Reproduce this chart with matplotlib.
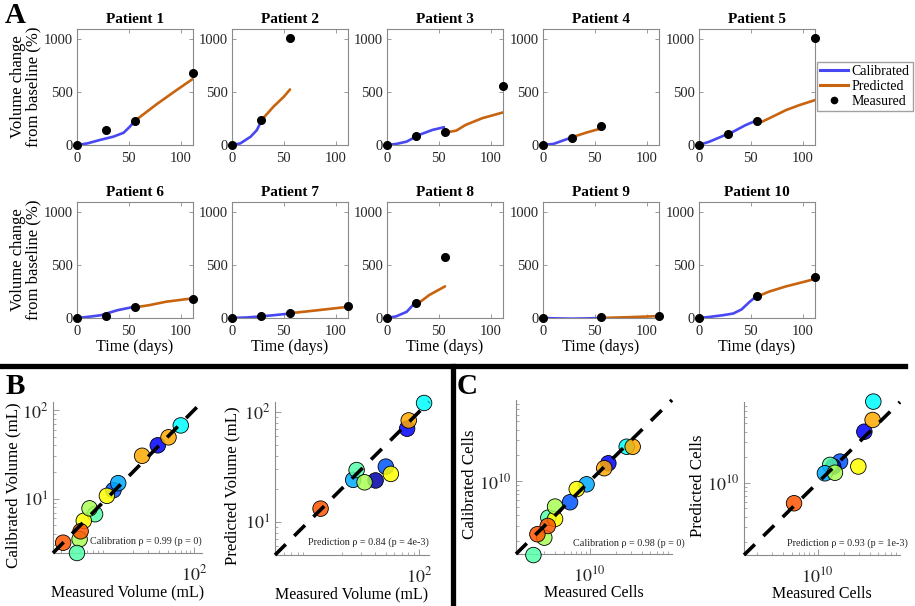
import matplotlib
matplotlib.use('Agg')
import matplotlib.pyplot as plt
from matplotlib.lines import Line2D
from matplotlib.ticker import LogLocator, NullFormatter

plt.rcParams['font.family'] = 'serif'
plt.rcParams['font.serif'] = ['Liberation Serif', 'DejaVu Serif']
plt.rcParams['mathtext.fontset'] = 'stix'

W, H = 915, 606

# ---- panel A data (days, % volume change) ----
patients = ['Patient %d' % i for i in range(1, 11)]
meas_t = [[0, 28, 56, 112], [0, 28, 56], [0, 28, 56, 112], [0, 28, 56], [0, 28, 56, 112],
          [0, 28, 56, 112], [0, 28, 56, 112], [0, 28, 56], [0, 56, 112], [0, 56, 112]]
meas_v = [[0, 145, 228, 680], [0, 234, 1006], [0, 88, 126, 558], [0, 69, 180], [0, 100, 228, 1006],
          [0, 19, 105, 176], [0, 16, 48, 112], [0, 137, 569], [0, 5, 19], [0, 208, 383]]
cal_t = [[0, 10, 22, 35, 45, 51, 56], [0, 8, 18, 24, 28], [0, 9, 19, 31, 44, 55], [0, 10, 19, 27],
         [0, 10, 20, 33, 45, 55], [0, 10, 23, 39, 55], [0, 14, 28, 42, 56], [0, 9, 19, 25, 28],
         [0, 14, 28, 42, 56], [0, 10, 23, 33, 41, 49, 55]]
cal_v = [[0, 15, 47, 78, 115, 172, 228], [0, 15, 78, 140, 220], [0, 10, 32, 95, 142, 167], [0, 10, 41, 69],
         [0, 31, 72, 125, 187, 228], [0, 10, 26, 73, 105], [0, 5, 15, 28, 42], [0, 16, 58, 121, 137],
         [0, -4, -6, -4, 0], [0, 10, 26, 42, 80, 153, 201]]
pred_t = [[56, 77, 96, 112], [30, 40, 50, 56], [57, 62, 67, 76, 92, 112], [30, 42, 54, 56],
          [56, 61, 71, 84, 97, 112], [56, 70, 86, 112], [56, 80, 112], [28, 31, 41, 50, 56],
          [56, 84, 112], [56, 68, 84, 97, 112]]
pred_v = [[228, 384, 515, 622], [250, 360, 453, 522], [126, 126, 136, 189, 252, 306], [79, 117, 150, 152],
          [222, 219, 266, 328, 375, 422], [100, 121, 153, 185], [45, 70, 105], [140, 144, 217, 265, 297],
          [0, 8, 18], [201, 249, 297, 329, 367]]

# jet(10) patient colours
jet10 = [(0, 0, 0.667), (0, 0, 1), (0, 0.333, 1), (0, 0.667, 1), (0, 1, 1),
         (0.333, 1, 0.667), (0.667, 1, 0.333), (1, 1, 0), (1, 0.667, 0), (1, 0.333, 0)]

# ---- panel B data (mL) ----
b_cal_meas = [12.0, 7.4, 5.5, 4.93, 70.4, 38.5, 51.0, 25.5, 13.6, 10.1, 6.4, 5.06, 3.2, 4.6]
b_cal_model = [12.5, 6.7, 5.65, 3.5, 67.0, 40.0, 49.2, 30.5, 15.0, 10.8, 7.8, 4.3, 3.2, 2.45]
b_cal_col = [3, 6, 8, 7, 5, 2, 9, 9, 4, 8, 7, 10, 10, 6]
b_pred_meas = [25.4, 27.3, 40.5, 32.2, 50.1, 55.6, 78.0, 80.7, 111, 12.9]
b_pred_model = [24.1, 29.6, 23.8, 22.9, 31.8, 27.3, 70.3, 83.6, 120.5, 13.2]
b_pred_col = [4, 6, 1, 7, 3, 8, 2, 9, 5, 10]

# ---- panel C data (cells) ----
c_cal_meas = [5.93e9, 3.33e9, 3.98e9, 2.99e9, 2.67e10, 1.64e10, 3.13e10, 1.47e10, 9.2e9, 7.08e9, 3.98e9, 3.28e9,
              2.49e9, 2.24e9]
c_cal_model = [5.68e9, 3.75e9, 3.62e9, 2.19e9, 2.53e10, 1.62e10, 2.53e10, 1.42e10, 9.2e9, 8.1e9, 5.05e9, 3.0e9,
               2.4e9, 1.37e9]
c_cal_col = [3, 6, 8, 7, 5, 2, 9, 9, 4, 8, 7, 10, 10, 6]
c_pred_meas = [1.81e10, 1.51e10, 1.39e10, 1.21e10, 1.58e10, 2.94e10, 3.45e10, 4.3e10, 4.38e10, 5.33e9]
c_pred_model = [1.77e10, 1.55e10, 1.62e10, 1.29e10, 1.31e10, 1.55e10, 3.98e10, 5.47e10, 9.0e10, 5.73e9]
c_pred_col = [3, 1, 6, 4, 7, 8, 2, 9, 5, 10]

blue = '#4848F2'
orange = '#C8640F'
spine_c = '#8a8a8a'
text_c = '#262626'

fig = plt.figure(figsize=(W / 100, H / 100), dpi=100)


def px_axes(l, t, r, b):
    return fig.add_axes([l / W, 1 - b / H, (r - l) / W, (b - t) / H])


# ---------------- panel A ----------------
a_left = [77, 232, 387, 543, 699]
a_top = [29, 202]
for i in range(10):
    row, col = divmod(i, 5)
    ax = px_axes(a_left[col], a_top[row], a_left[col] + 116, a_top[row] + 116)
    ax.plot(cal_t[i], cal_v[i], color=blue, lw=1.9, solid_capstyle='round')
    ax.plot(pred_t[i], pred_v[i], color=orange, lw=1.9, solid_capstyle='round')
    ax.plot(meas_t[i], meas_v[i], 'o', color='k', ms=5.5, clip_on=False, zorder=5)
    ax.set_xlim(0, 112)
    ax.set_ylim(0, 1090)
    ax.set_xticks([0, 50, 100])
    ax.set_yticks([0, 500, 1000])
    ax.tick_params(direction='in', length=3, width=0.6, top=True, right=True, colors=spine_c,
                   labelcolor=text_c, labelsize=10.5, pad=3)
    ax.tick_params(axis='x', pad=5)
    for s in ax.spines.values():
        s.set_color(spine_c)
        s.set_linewidth(0.8)
    ax.set_title(patients[i], fontsize=11, fontweight='bold', pad=4)
    if col == 0:
        ax.set_ylabel('Volume change\nfrom baseline (%)', fontsize=12, linespacing=0.95, labelpad=2)
    if row == 1:
        ax.set_xlabel('Time (days)', fontsize=11.5, labelpad=1)

handles = [Line2D([], [], color=blue, lw=2.2), Line2D([], [], color=orange, lw=2.2),
           Line2D([], [], color='k', marker='.', ls='none', ms=9)]
fig.legend(handles, ['Calibrated', 'Predicted', 'Measured'], loc='upper left',
           bbox_to_anchor=(817 / W, 1 - 62 / H), fontsize=10, frameon=True, fancybox=False,
           edgecolor=spine_c, handlelength=2.0, handletextpad=0.3, borderpad=0.2,
           labelspacing=0.15, borderaxespad=0)


# ---------------- panels B and C ----------------
def scatter_panel(box, lo, hi, xm, ym, cols, xt, xtl, yt, ytl, xlab, ylab, note, note_x, note_y, ylab_x):
    ax = px_axes(*box)
    fc = [(*jet10[c - 1], 0.85) for c in cols]
    ax.scatter(xm, ym, s=125, c=fc, edgecolors='k', linewidths=0.6, clip_on=False, zorder=3)
    ax.plot([lo, hi], [lo, hi], color='k', lw=2.6, ls=(0, (4.2, 3.3)), clip_on=False, zorder=4)
    ax.set_xscale('log')
    ax.set_yscale('log')
    ax.set_xlim(lo, hi)
    ax.set_ylim(lo, hi)
    ax.set_xticks(xt, xtl)
    ax.set_yticks(yt, ytl)
    ax.xaxis.set_minor_locator(LogLocator(subs=range(2, 10)))
    ax.yaxis.set_minor_locator(LogLocator(subs=range(2, 10)))
    ax.xaxis.set_minor_formatter(NullFormatter())
    ax.yaxis.set_minor_formatter(NullFormatter())
    ax.tick_params(which='both', direction='in', colors=spine_c, labelcolor=text_c, labelsize=13)
    ax.tick_params(which='major', length=4, width=0.6)
    ax.tick_params(which='minor', length=2.5, width=0.5)
    ax.tick_params(axis='x', pad=8)
    for k in ['top', 'right']:
        ax.spines[k].set_visible(False)
    for k in ['left', 'bottom']:
        ax.spines[k].set_color(spine_c)
        ax.spines[k].set_linewidth(0.8)
    ax.set_xlabel(xlab, fontsize=11.5, labelpad=0)
    ax.set_ylabel(ylab, fontsize=12.2)
    ax.yaxis.set_label_coords(ylab_x, 0.45)
    ax.text(note_x, note_y, note, transform=ax.transAxes, ha='right', va='center', fontsize=7.3,
            color=text_c, zorder=6)
    return ax


scatter_panel((53, 402, 202, 553), 2.45, 123, b_cal_meas, b_cal_model, b_cal_col,
              [100], [r'$10^{2}$'], [10, 100], [r'$10^{1}$', r'$10^{2}$'],
              'Measured Volume (mL)', 'Calibrated Volume (mL)',
              'Calibration \u03c1 = 0.99 (p = 0)', 1.0, 0.075, -0.215)
scatter_panel((275, 402, 429, 555), 5.0, 123, b_pred_meas, b_pred_model, b_pred_col,
              [100], [r'$10^{2}$'], [10, 100], [r'$10^{1}$', r'$10^{2}$'],
              'Measured Volume (mL)', 'Predicted Volume (mL)',
              'Prediction \u03c1 = 0.84 (p = 4e-3)', 1.0, 0.085, -0.227)
scatter_panel((516, 400, 672, 554), 1.41e9, 8.9e10, c_cal_meas, c_cal_model, c_cal_col,
              [1e10], [r'$10^{10}$'], [1e10], [r'$10^{10}$'],
              'Measured Cells', 'Calibrated Cells',
              'Calibration \u03c1 = 0.98 (p = 0)', 1.08, 0.07, -0.244)
scatter_panel((744, 402, 900, 555), 1.41e9, 8.9e10, c_pred_meas, c_pred_model, c_pred_col,
              [1e10], [r'$10^{10}$'], [1e10], [r'$10^{10}$'],
              'Measured Cells', 'Predicted Cells',
              'Prediction \u03c1 = 0.93 (p = 1e-3)', 1.05, 0.08, -0.244)

# separators and panel letters
fig.add_artist(Line2D([0, 905 / W], [1 - 365.5 / H] * 2, color='k', lw=3.8, transform=fig.transFigure))
fig.add_artist(Line2D([452.5 / W] * 2, [0, 1 - 365.5 / H], color='k', lw=3.8, transform=fig.transFigure))
for lab, x, y in [('A', 5, 2), ('B', 6, 373), ('C', 457, 373)]:
    fig.text(x / W, 1 - y / H, lab, fontsize=21, fontweight='bold', ha='left', va='top')

fig.savefig('out.png', dpi=100)
